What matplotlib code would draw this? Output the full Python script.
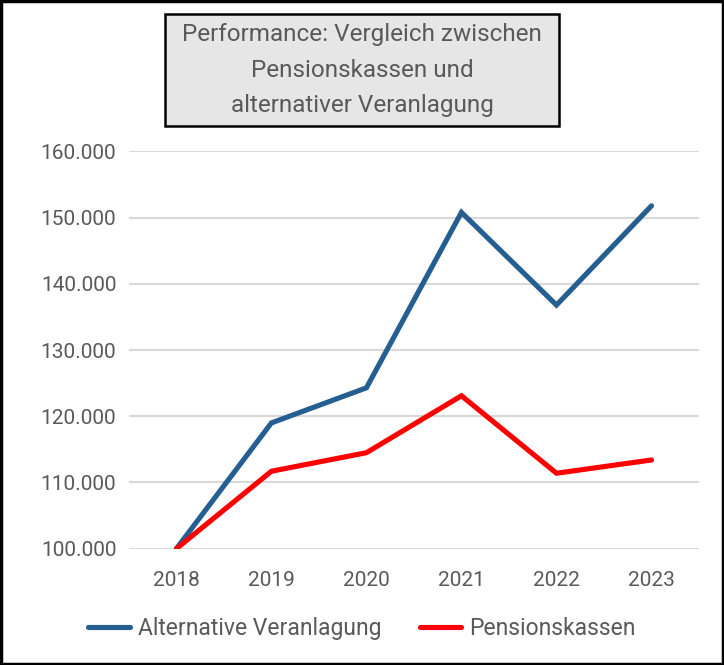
import matplotlib
matplotlib.use('Agg')
import matplotlib.pyplot as plt
from matplotlib.patches import Rectangle
from matplotlib.ticker import FuncFormatter

plt.rcParams['font.family'] = ['Roboto', 'DejaVu Sans']

# data
years = ['2018', '2019', '2020', '2021', '2022', '2023']
alternative = [100000, 119000, 124300, 150800, 136800, 151800]
pensionskassen = [100000, 111700, 114500, 123100, 111400, 113400]

blue = '#255E91'
red = '#FF0000'
grey_text = '#595959'

fig = plt.figure(figsize=(7.24, 6.65), dpi=100)
ax = fig.add_axes([0.178, 0.1749, 0.7875, 0.5973])

x = range(len(years))
ax.plot(x, alternative, color=blue, lw=3.7, solid_capstyle='round',
        solid_joinstyle='miter', label='Alternative Veranlagung', zorder=3)
ax.plot(x, pensionskassen, color=red, lw=3.7, solid_capstyle='round',
        solid_joinstyle='miter', label='Pensionskassen', zorder=3)

ax.set_xlim(-0.5, len(years) - 0.5)
ax.set_ylim(100000, 160000)
ax.set_xticks(list(x))
ax.set_xticklabels(years)
ax.set_yticks(range(100000, 160001, 10000))
ax.yaxis.set_major_formatter(FuncFormatter(lambda v, p: f'{int(v):,}'.replace(',', '.')))

ax.grid(axis='y', color='#D9D9D9', lw=1.5)
ax.set_axisbelow(True)
for s in ax.spines.values():
    s.set_visible(False)
ax.tick_params(length=0, labelsize=15, colors=grey_text)
ax.tick_params(axis='x', pad=16)
ax.tick_params(axis='y', pad=9)

# legend
fig.legend(loc='center', bbox_to_anchor=(0.5, 0.0556), ncol=2, frameon=False,
           fontsize=16.5, labelcolor=grey_text, handlelength=1.8, columnspacing=1.7,
           handletextpad=0.35)

# title box
fig.patches.append(Rectangle((0.228, 0.8105), 0.544, 0.168, transform=fig.transFigure,
                             facecolor='#E7E6E6', edgecolor='black', lw=1.8))
fig.text(0.5, 0.8945, 'Performance: Vergleich zwischen\nPensionskassen und\nalternativer Veranlagung',
         ha='center', va='center', fontsize=17.5, color=grey_text, linespacing=1.7)

# outer frame
fig.patches.append(Rectangle((0.002, 0.002), 0.996, 0.996, transform=fig.transFigure,
                             facecolor='none', edgecolor='black', lw=2.5))

fig.savefig('out.png', dpi=100)
